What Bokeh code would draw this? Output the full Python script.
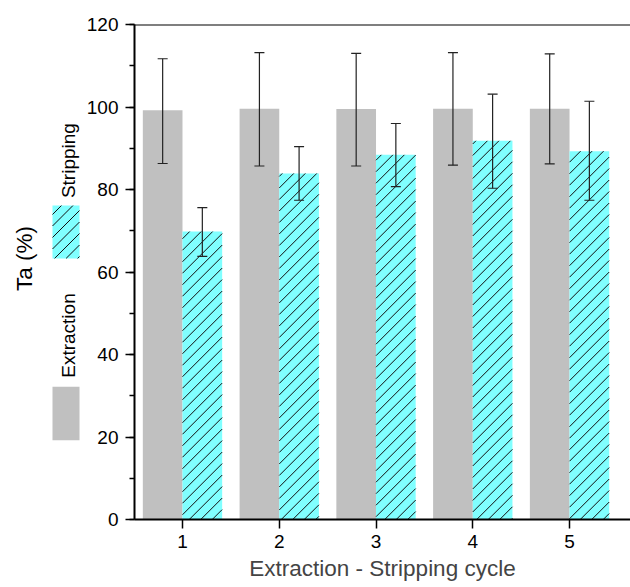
import math
import numpy as np
from bokeh.plotting import figure
from bokeh.models import (ColumnDataSource, Range1d, FixedTicker, SingleIntervalTicker,
                          Whisker, TeeHead, Span)
from bokeh.layouts import row
from bokeh.core.properties import value
from bokeh.embed import file_html
from bokeh.resources import INLINE

FONT = "Liberation Sans"

cycles = [1, 2, 3, 4, 5]
extraction = [99.2, 99.6, 99.5, 99.6, 99.6]
extraction_low = [86.3, 85.7, 85.7, 85.9, 86.2]
extraction_high = [111.7, 113.2, 113.0, 113.2, 112.9]
stripping = [69.8, 83.9, 88.4, 91.8, 89.3]
stripping_low = [63.8, 77.4, 80.7, 80.3, 77.4]
stripping_high = [75.6, 90.4, 96.0, 103.1, 101.4]
series_names = ["Extraction", "Stripping"]
y_label = "Ta (%)"
x_label = "Extraction - Stripping cycle"

GRAY = "#C0C0C0"
CYAN = "#80FFFF"
BW = 0.41
HATCH_SPACING = 11.5  # px between 45-degree hatch lines (vertical distance)

X0, X1 = 0.504, 5.63
FRAME_W, FRAME_H = 496, 495
Y0, Y1 = 0, 120


def hatch_segments(rects, sx, sy, spacing):
    """45-degree (screen space) '/' hatch lines clipped to data rectangles."""
    xs, ys = [], []
    for (l, r, b, t) in rects:
        U0, U1, V0, V1 = l * sx, r * sx, b * sy, t * sy
        kmin = math.floor((V0 - U1) / spacing)
        kmax = math.ceil((V1 - U0) / spacing)
        for k in range(kmin, kmax + 1):
            B = k * spacing
            ua = max(U0, V0 - B)
            ub = min(U1, V1 - B)
            if ub - ua > 0.5:
                xs.append([ua / sx, ub / sx])
                ys.append([(ua + B) / sy, (ub + B) / sy])
    return xs, ys


ext_src = ColumnDataSource(dict(x=[c - BW / 2 for c in cycles], top=extraction,
                                lo=extraction_low, hi=extraction_high))
str_src = ColumnDataSource(dict(x=[c + BW / 2 for c in cycles], top=stripping,
                                lo=stripping_low, hi=stripping_high))

yr = Range1d(Y0, Y1)
SX = FRAME_W / (X1 - X0)
SY = FRAME_H / (Y1 - Y0)

W_LEFT = 83
BORDER_LEFT = 51

# ---------- main plot ----------
p = figure(width=630 - W_LEFT, height=587, output_backend="svg", toolbar_location=None,
           x_range=Range1d(X0, X1), y_range=yr,
           min_border_left=BORDER_LEFT, min_border_right=0, min_border_top=24,
           min_border_bottom=68)
p.outline_line_color = None
p.xgrid.visible = False
p.ygrid.visible = False

p.vbar(x="x", top="top", width=BW, source=ext_src, fill_color=GRAY, line_color=None)
p.vbar(x="x", top="top", width=BW, source=str_src, fill_color=CYAN, line_color=None)

bar_rects = [(c, c + BW, 0, v) for c, v in zip(cycles, stripping)]
hx, hy = hatch_segments(bar_rects, SX, SY, HATCH_SPACING)
p.multi_line(hx, hy, line_color="#111111", line_width=1)

for src in (ext_src, str_src):
    col = "#222222"
    w = Whisker(source=src, base="x", lower="lo", upper="hi", line_color=col, line_width=1.2,
                upper_head=TeeHead(size=10, line_color=col, line_width=1.2),
                lower_head=TeeHead(size=10, line_color=col, line_width=1.2),
                level="overlay")
    p.add_layout(w)

p.add_layout(Span(location=120, dimension="width", line_color="black", line_width=2))

for ax in (p.xaxis[0], p.yaxis[0]):
    ax.axis_line_width = 2
    ax.axis_line_color = "black"
    ax.major_tick_line_color = "black"
    ax.major_tick_line_width = 1.5
    ax.minor_tick_line_color = "black"
    ax.minor_tick_line_width = 1.5
    ax.major_tick_in = 0
    ax.minor_tick_in = 0
    ax.major_tick_out = 9
    ax.minor_tick_out = 5
    ax.major_label_text_font = FONT
    ax.major_label_text_font_size = "19px"
    ax.major_label_text_color = "black"

p.xaxis[0].ticker = FixedTicker(ticks=cycles, minor_ticks=[])
p.xaxis[0].major_label_standoff = 6
p.xaxis[0].axis_label = x_label
p.xaxis[0].axis_label_text_font = FONT
p.xaxis[0].axis_label_text_font_size = "22.5px"
p.xaxis[0].axis_label_text_font_style = "normal"
p.xaxis[0].axis_label_standoff = 5
p.xaxis[0].axis_label_text_baseline = "hanging"

p.yaxis[0].ticker = SingleIntervalTicker(interval=20, num_minor_ticks=2)
p.yaxis[0].major_label_standoff = 7

# ---------- left panel: y label and rotated legend (shares the y scale) ----------
lp = figure(width=W_LEFT, height=587, output_backend="svg", toolbar_location=None,
            x_range=Range1d(0, W_LEFT), y_range=yr,
            min_border_left=0, min_border_right=0, min_border_top=24, min_border_bottom=68)
lp.axis.visible = False
lp.grid.visible = False
lp.outline_line_color = None

lp.text(x=[24], y=[63.3], text=[y_label], angle=math.pi / 2, text_align="center",
        text_baseline="middle", text_font=value(FONT), text_font_size="22.5px",
        text_color="black")

lp.quad(left=[52], right=[79], top=[32.2], bottom=[19.2], fill_color=GRAY, line_color=None)
lp.quad(left=[52], right=[79], top=[76.1], bottom=[63.3], fill_color=CYAN, line_color=None)
lx, ly = hatch_segments([(52, 79, 63.3, 76.1)], 1.0, SY, HATCH_SPACING)
lp.multi_line(lx, ly, line_color="#111111", line_width=1)
lp.text(x=[68, 68], y=[44.6, 87.0], text=series_names, angle=math.pi / 2, text_align="center",
        text_baseline="middle", text_font=value(FONT), text_font_size="19px",
        text_color="black")

layout = row(lp, p)
open("out.html", "w").write(file_html(layout, INLINE))
